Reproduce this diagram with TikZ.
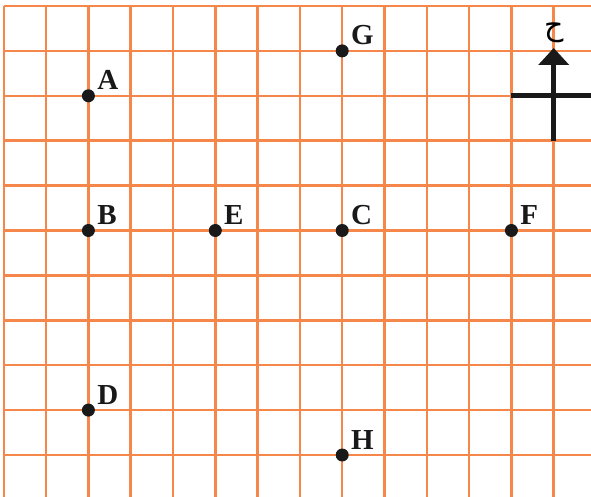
\documentclass[tikz,border=0pt]{standalone}
\usepackage{fontspec}
\setmainfont{Liberation Serif}
\newfontfamily\arabicfont[Script=Arabic]{DejaVu Sans}
\TeXXeTstate=1
\usetikzlibrary{arrows.meta, positioning}
\definecolor{arancioreticolo}{HTML}{F5874A}

\begin{document}
\begin{tikzpicture}[
  x=1pt, y=-1pt,
  font=\fontsize{29}{32}\selectfont\bfseries,
  reticolo/.style={draw=arancioreticolo, line width=2.5pt},
  punto/.style={circle, fill=black!90, inner sep=0pt, minimum size=13pt},
  etichetta/.style={anchor=south west, inner sep=0pt, text=black!90},
  bussola/.style={draw=black!90, line width=5pt}
]

% Passo del reticolo in pixel dell'originale: le celle non sono quadrate.
\def\passox{42.3}
\def\passoy{44.9}
\def\origx{3.8}
\def\origy{6.0}

\useasboundingbox (0,0) rectangle (591,497);

% ---- reticolo arancione --------------------------------------------
\foreach \i in {0,...,13}
  \draw[reticolo] (\origx+\i*\passox,\origy) -- (\origx+\i*\passox,497);
\foreach \j in {0,...,10}
  \draw[reticolo] (\origx,\origy+\j*\passoy) -- (591,\origy+\j*\passoy);

% ---- punti -------------------------------------------------------
\node[punto] (G) at (\origx+8*\passox, \origy+1*\passoy) {};
\node[punto] (A) at (\origx+2*\passox, \origy+2*\passoy) {};
\node[punto] (B) at (\origx+2*\passox, \origy+5*\passoy) {};
\node[punto] (E) at (\origx+5*\passox, \origy+5*\passoy) {};
\node[punto] (C) at (\origx+8*\passox, \origy+5*\passoy) {};
\node[punto] (F) at (\origx+12*\passox,\origy+5*\passoy) {};
\node[punto] (D) at (\origx+2*\passox, \origy+9*\passoy) {};
\node[punto] (H) at (\origx+8*\passox, \origy+10*\passoy) {};

% ---- etichette -----------------------------------------------------
\foreach \p in {A,B,C,D,E,F,G,H}
  \node[etichetta, above right=1pt and 4pt of \p] (lab\p) {\p};

% ---- rosa dei venti (solo il nord) ---------------------------------
\coordinate (bussolaS) at (\origx+13*\passox, \origy+3*\passoy);
\coordinate (bussolaN) at (\origx+13*\passox, 48);
\coordinate (bussolaO) at (\origx+12*\passox, \origy+2*\passoy);
\coordinate (bussolaE) at (591, \origy+2*\passoy);
\draw[bussola, -{Triangle[length=17pt, width=30pt]}] (bussolaS) -- (bussolaN);
\draw[bussola] (bussolaO) -- (bussolaE);
\node[inner sep=0pt, font=\fontsize{30}{32}\selectfont] (nord) at (\origx+13*\passox, 33)
  {\arabicfont\beginR ح\endR};

\end{tikzpicture}
\end{document}
